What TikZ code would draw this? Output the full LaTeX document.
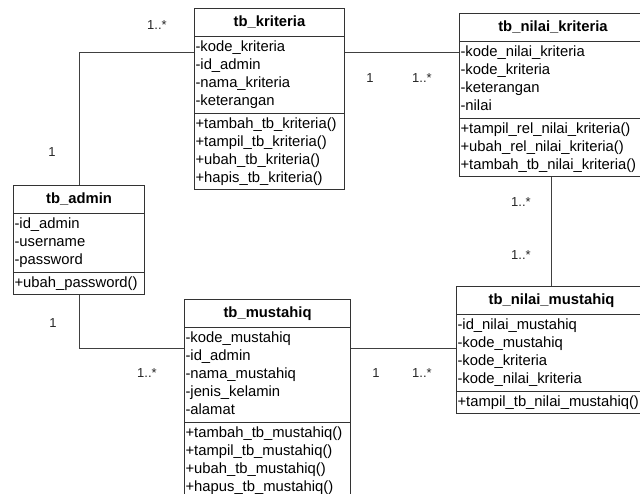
\documentclass[tikz,border=0pt]{standalone}
\usepackage{fontspec}
\setmainfont{Liberation Sans}
\usetikzlibrary{shapes.multipart}
\newcommand{\attr}[1]{\strut-#1}
\newcommand{\meth}[1]{\strut+#1()}
\newcommand{\clstitle}[1]{\hbox to \hsize{\hfil\rule[-7.5pt]{0pt}{23.5pt}\textbf{#1}\hfil}}
\begin{document}
\begin{tikzpicture}[x = 1pt, y = -1pt, line width = 1pt,
                    cls/.style = {rectangle split, rectangle split parts = 3, draw = black!80,
                                  line width = 1.1pt, fill = white, inner xsep = 1pt, inner ysep = 1.75pt,
                                  anchor = north west, align = left, font = \fontsize{14.8}{18}\selectfont},
                    mult/.style = {inner sep = 0pt, text = black!85, font = \fontsize{13}{15}\selectfont},
                    link/.style = {draw = black!75, line width = 1pt}]
      \clip (0, 0) rectangle (640, 493);
      \node [cls, text width = 148pt] (kriteria) at (194, 8){\clstitle{tb\_kriteria}
        \nodepart{two}\attr{kode\_kriteria}\\\attr{id\_admin}\\\attr{nama\_kriteria}\\\attr{keterangan}
        \nodepart{three}\meth{tambah\_tb\_kriteria}\\\meth{tampil\_tb\_kriteria}\\\meth{ubah\_tb\_kriteria}\\\meth{hapis\_tb\_kriteria}};
      \node [cls, text width = 185pt] (nkriteria) at (459, 13){\clstitle{tb\_nilai\_kriteria}
        \nodepart{two}\attr{kode\_nilai\_kriteria}\\\attr{kode\_kriteria}\\\attr{keterangan}\\\attr{nilai}
        \nodepart{three}\meth{tampil\_rel\_nilai\_kriteria}\\\meth{ubah\_rel\_nilai\_kriteria}\\\meth{tambah\_tb\_nilai\_kriteria}};
      \node [cls, text width = 129pt] (admin) at (13, 185){\clstitle{tb\_admin}
        \nodepart{two}\attr{id\_admin}\\\attr{username}\\\attr{password}
        \nodepart{three}\meth{ubah\_password}};
      \node [cls, text width = 164pt] (mustahiq) at (184, 299){\clstitle{tb\_mustahiq}
        \nodepart{two}\attr{kode\_mustahiq}\\\attr{id\_admin}\\\attr{nama\_mustahiq}\\\attr{jenis\_kelamin}\\\attr{alamat}
        \nodepart{three}\meth{tambah\_tb\_mustahiq}\\\meth{tampil\_tb\_mustahiq}\\\meth{ubah\_tb\_mustahiq}\\\meth{hapus\_tb\_mustahiq}};
      \node [cls, text width = 188pt] (nmustahiq) at (456, 286){\clstitle{tb\_nilai\_mustahiq}
        \nodepart{two}\attr{id\_nilai\_mustahiq}\\\attr{kode\_mustahiq}\\\attr{kode\_kriteria}\\\attr{kode\_nilai\_kriteria}
        \nodepart{three}\meth{tampil\_tb\_nilai\_mustahiq}};
      \draw [link] (admin.north) |- ([yshift = -44pt]kriteria.north west);
      \draw [link] ([yshift = -44pt]kriteria.north east) -- ([yshift = -44pt]kriteria.north east -| nkriteria.west);
      \draw [link] ([xshift = -2pt]nkriteria.south) -- ([xshift = -2pt]nkriteria.south |- nmustahiq.north);
      \draw [link] (admin.south) |- ([yshift = -49pt]mustahiq.north west);
      \draw [link] ([yshift = -49pt]mustahiq.north east) -- ([yshift = -49pt]mustahiq.north east -| nmustahiq.west);
      \node [mult] (m1) at (157, 25){1..*};
      \node [mult] (m2) at (52, 152){1};
      \node [mult] (m3) at (370, 78){1};
      \node [mult] (m4) at (422, 78){1..*};
      \node [mult] (m5) at (521, 202){1..*};
      \node [mult] (m6) at (521, 255){1..*};
      \node [mult] (m7) at (53, 323){1};
      \node [mult] (m8) at (147, 373){1..*};
      \node [mult] (m9) at (376, 373){1};
      \node [mult] (m10) at (422, 373){1..*};
    \end{tikzpicture}
\end{document}
